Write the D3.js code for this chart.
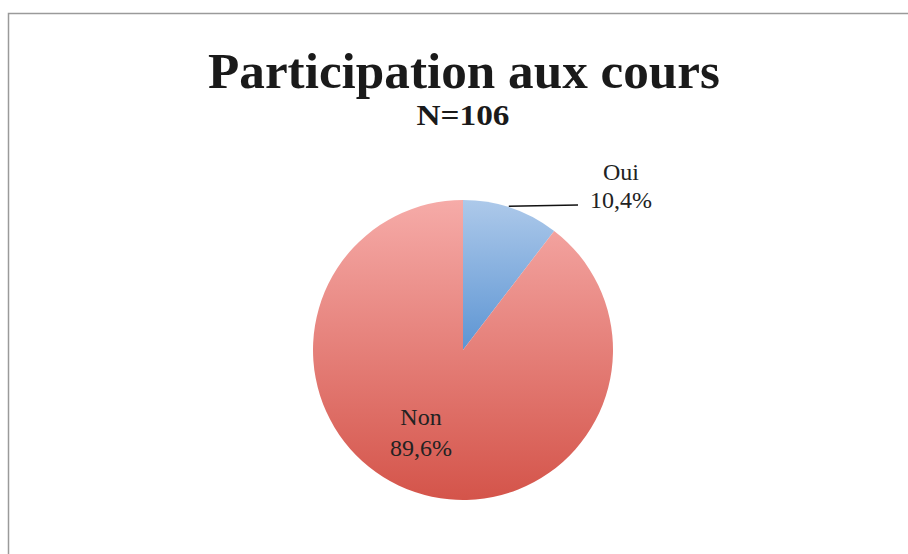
<!DOCTYPE html>
<html><head><meta charset="utf-8">
<script src="https://cdn.jsdelivr.net/npm/d3@7"></script>
<style>body{margin:0;background:#fff;} svg{display:block;}</style>
</head><body>
<svg id="c" width="908" height="554"></svg>
<script>
const categories = ["Oui", "Non"];
const values = [10.4, 89.6];
const valueLabels = ["10,4%", "89,6%"];
const title = "Participation aux cours";
const subtitle = "N=106";

const svg = d3.select("#c");
const font = "'Liberation Serif', 'DejaVu Serif', serif";

svg.append("rect").attr("x", 8.5).attr("y", 13.5).attr("width", 920).attr("height", 560)
  .attr("fill", "#fff").attr("stroke", "#9a9a9a").attr("stroke-width", 1.5);

const defs = svg.append("defs");
const grads = [
  {id: "gOui", top: "#adc9ea", bottom: "#5d95d3"},
  {id: "gNon", top: "#f6aba8", bottom: "#d4544a"}
];
grads.forEach(g => {
  const lg = defs.append("linearGradient").attr("id", g.id).attr("x1", 0).attr("y1", 0).attr("x2", 0).attr("y2", 1);
  lg.append("stop").attr("offset", "0%").attr("stop-color", g.top);
  lg.append("stop").attr("offset", "100%").attr("stop-color", g.bottom);
});

// Title
svg.append("text").attr("x", 464).attr("y", 88).attr("text-anchor", "middle")
  .attr("font-family", font).attr("font-weight", "bold").attr("font-size", 51)
  .attr("textLength", 512).attr("lengthAdjust", "spacingAndGlyphs")
  .attr("fill", "#1a1a1a").text(title);

svg.append("text").attr("x", 463).attr("y", 125).attr("text-anchor", "middle")
  .attr("font-family", font).attr("font-weight", "bold").attr("font-size", 30)
  .attr("textLength", 93).attr("lengthAdjust", "spacingAndGlyphs")
  .attr("fill", "#1a1a1a").text(subtitle);

// Pie
const cx = 463, cy = 350, r = 150;
const pie = d3.pie().sort(null).value(d => d)(values);
const arc = d3.arc().innerRadius(0).outerRadius(r);
const g = svg.append("g").attr("transform", `translate(${cx},${cy})`);
g.selectAll("path").data(pie).join("path")
  .attr("d", arc)
  .attr("fill", (d, i) => `url(#${grads[i].id})`);

// Labels
const lblFont = 24;
const ouiMid = (pie[0].startAngle + pie[0].endAngle) / 2;
const p0 = [Math.sin(ouiMid * 0.95) * r, -Math.cos(ouiMid * 0.95) * r];
svg.append("line").attr("x1", cx + p0[0]).attr("y1", cy + p0[1] - 1)
  .attr("x2", 578).attr("y2", 205).attr("stroke", "#111").attr("stroke-width", 1.5);
const ouiT = svg.append("text").attr("font-family", font).attr("font-size", lblFont)
  .attr("fill", "#222").attr("text-anchor", "middle");
ouiT.append("tspan").attr("x", 621).attr("y", 180).text(categories[0]);
ouiT.append("tspan").attr("x", 621).attr("y", 208).text(valueLabels[0]);

const nonT = svg.append("text").attr("font-family", font).attr("font-size", lblFont)
  .attr("fill", "#222").attr("text-anchor", "middle");
nonT.append("tspan").attr("x", 421).attr("y", 425).text(categories[1]);
nonT.append("tspan").attr("x", 421).attr("y", 456).text(valueLabels[1]);
</script>
</body></html>
